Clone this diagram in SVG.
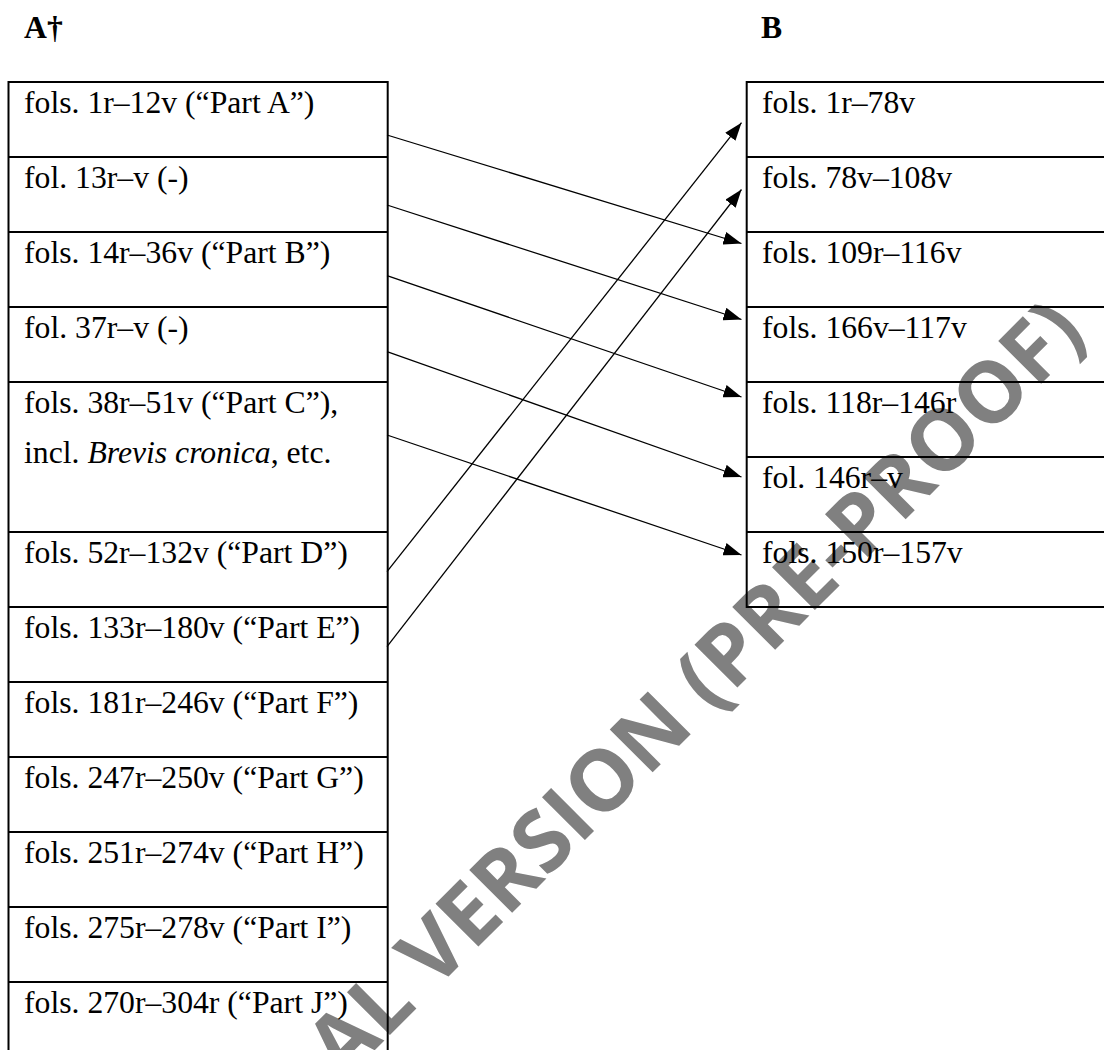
<svg xmlns="http://www.w3.org/2000/svg" width="1104" height="1050" viewBox="0 0 1104 1050">
<style>
.t{font-family:"Liberation Serif","Times New Roman",serif;font-size:31.7px;fill:#000}
.h{font-family:"Liberation Serif","Times New Roman",serif;font-size:31.7px;font-weight:bold;fill:#000}
.box{fill:none;stroke:#000;stroke-width:2}
.div{stroke:#000;stroke-width:2}
.c{stroke:#000;stroke-width:1.3;fill:none;marker-end:url(#ah)}
.wm{font-family:"Open Sans","Noto Sans",sans-serif;font-weight:bold;font-size:85px;fill:#808080}
</style>
<defs>
<marker id="ah" viewBox="0 0 18 13" refX="18" refY="6.5" markerWidth="18" markerHeight="13" orient="auto" markerUnits="userSpaceOnUse">
<path d="M0,0 L18,6.5 L0,13 z" fill="#000"/>
</marker>
</defs>
<rect width="1104" height="1050" fill="#fff"/>
<g id="watermark">
<text class="wm" transform="translate(343,1082) rotate(-45)">AL VERSION (PRE-PROOF)</text>
</g>
<g id="headers">
<text class="h" x="24" y="38">A†</text>
<text class="h" x="761" y="38">B</text>
</g>
<g id="columnA">
<rect class="box" x="8.5" y="82" width="379.2" height="1000"/>
<g id="a1"><text class="t" x="24" y="113">fols. 1r–12v (“Part A”)</text></g>
<g id="a2"><line class="div" x1="8.5" y1="157" x2="387.7" y2="157"/><text class="t" x="24" y="188">fol. 13r–v (-)</text></g>
<g id="a3"><line class="div" x1="8.5" y1="232" x2="387.7" y2="232"/><text class="t" x="24" y="263">fols. 14r–36v (“Part B”)</text></g>
<g id="a4"><line class="div" x1="8.5" y1="307" x2="387.7" y2="307"/><text class="t" x="24" y="338">fol. 37r–v (-)</text></g>
<g id="a5"><line class="div" x1="8.5" y1="382" x2="387.7" y2="382"/><text class="t" x="24" y="413">fols. 38r–51v (“Part C”),</text><text class="t" x="24" y="463">incl. <tspan font-style="italic">Brevis cronica</tspan>, etc.</text></g>
<g id="a6"><line class="div" x1="8.5" y1="532" x2="387.7" y2="532"/><text class="t" x="24" y="563">fols. 52r–132v (“Part D”)</text></g>
<g id="a7"><line class="div" x1="8.5" y1="607" x2="387.7" y2="607"/><text class="t" x="24" y="638">fols. 133r–180v (“Part E”)</text></g>
<g id="a8"><line class="div" x1="8.5" y1="682" x2="387.7" y2="682"/><text class="t" x="24" y="713">fols. 181r–246v (“Part F”)</text></g>
<g id="a9"><line class="div" x1="8.5" y1="757" x2="387.7" y2="757"/><text class="t" x="24" y="788">fols. 247r–250v (“Part G”)</text></g>
<g id="a10"><line class="div" x1="8.5" y1="832" x2="387.7" y2="832"/><text class="t" x="24" y="863">fols. 251r–274v (“Part H”)</text></g>
<g id="a11"><line class="div" x1="8.5" y1="907" x2="387.7" y2="907"/><text class="t" x="24" y="938">fols. 275r–278v (“Part I”)</text></g>
<g id="a12"><line class="div" x1="8.5" y1="982" x2="387.7" y2="982"/><text class="t" x="24" y="1013">fols. 270r–304r (“Part J”)</text></g>
</g>
<g id="columnB">
<rect class="box" x="746.7" y="82" width="400" height="525"/>
<g id="b1"><text class="t" x="762" y="113">fols. 1r–78v</text></g>
<g id="b2"><line class="div" x1="746.7" y1="157" x2="1104" y2="157"/><text class="t" x="762" y="188">fols. 78v–108v</text></g>
<g id="b3"><line class="div" x1="746.7" y1="232" x2="1104" y2="232"/><text class="t" x="762" y="263">fols. 109r–116v</text></g>
<g id="b4"><line class="div" x1="746.7" y1="307" x2="1104" y2="307"/><text class="t" x="762" y="338">fols. 166v–117v</text></g>
<g id="b5"><line class="div" x1="746.7" y1="382" x2="1104" y2="382"/><text class="t" x="762" y="413">fols. 118r–146r</text></g>
<g id="b6"><line class="div" x1="746.7" y1="457" x2="1104" y2="457"/><text class="t" x="762" y="488">fol. 146r–v</text></g>
<g id="b7"><line class="div" x1="746.7" y1="532" x2="1104" y2="532"/><text class="t" x="762" y="563">fols. 150r–157v</text></g>
</g>
<g id="connectors">
<line class="c" x1="387" y1="135" x2="741.5" y2="243.5"/>
<line class="c" x1="387" y1="205" x2="741.5" y2="319.5"/>
<line class="c" x1="387" y1="275.7" x2="741.5" y2="397"/>
<line class="c" x1="387" y1="351.7" x2="741.5" y2="477"/>
<line class="c" x1="387" y1="435" x2="741.5" y2="555"/>
<line class="c" x1="387" y1="571.7" x2="741.5" y2="122.7"/>
<line class="c" x1="387" y1="646.7" x2="741.5" y2="189.5"/>
</g>
</svg>
